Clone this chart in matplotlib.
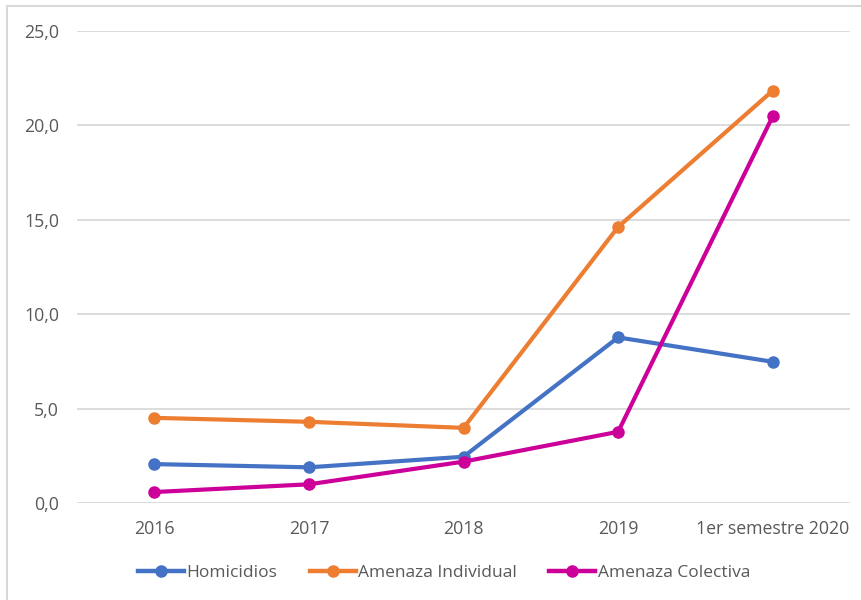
import matplotlib
matplotlib.use("Agg")
import matplotlib.pyplot as plt
from matplotlib.ticker import FuncFormatter, MultipleLocator
from matplotlib.lines import Line2D
from matplotlib.patches import Rectangle

categories = ["2016", "2017", "2018", "2019", "1er semestre 2020"]
homicidios = [2.06, 1.89, 2.45, 8.77, 7.48]
amenaza_individual = [4.51, 4.30, 3.98, 14.62, 21.84]
amenaza_colectiva = [0.58, 0.99, 2.19, 3.77, 20.48]

series = [
    ("Homicidios", homicidios, "#4472C4"),
    ("Amenaza Individual", amenaza_individual, "#ED7D31"),
    ("Amenaza Colectiva", amenaza_colectiva, "#CC0099"),
]

plt.rcParams['font.family'] = ['Open Sans', 'DejaVu Sans']

fig = plt.figure(figsize=(8.62, 6.0), dpi=100)
ax = fig.add_axes([77/862, 1-503/600, (850-77)/862, (503-31)/600])

x = list(range(len(categories)))
for name, vals, col in series:
    ax.plot(x, vals, color=col, lw=3.0, marker='o', markersize=8,
            solid_capstyle='round', label=name, zorder=3)

ax.set_xlim(-0.5, len(categories) - 0.5)
ax.set_ylim(0, 25)
ax.yaxis.set_major_locator(MultipleLocator(5))
ax.yaxis.set_major_formatter(FuncFormatter(lambda v, p: f"{v:.1f}".replace('.', ',')))
ax.set_xticks(x)
ax.set_xticklabels(categories)
ax.grid(axis='y', color='#D9D9D9', lw=1.3, zorder=0)
for s in ax.spines.values():
    s.set_visible(False)
ax.tick_params(axis='both', length=0, colors='#595959', labelsize=12.8)
ax.tick_params(axis='y', pad=13)
ax.tick_params(axis='x', pad=12)

handles = [Line2D([0], [0], color=c, lw=3.2, marker='o', markersize=8) for _, _, c in series]
fig.legend(handles, [n for n, _, _ in series], loc='center', bbox_to_anchor=(444/862, 1-573/600),
           ncol=3, frameon=False, fontsize=12.5, labelcolor='#595959',
           handlelength=2.65, handletextpad=0.15, columnspacing=1.85)

fig.patches.append(Rectangle((7/862, -0.1), 1.2, 1 - 6/600 + 0.1, transform=fig.transFigure,
                             fill=False, edgecolor='#D9D9D9', lw=1.5))

fig.savefig("out.png", dpi=100)
